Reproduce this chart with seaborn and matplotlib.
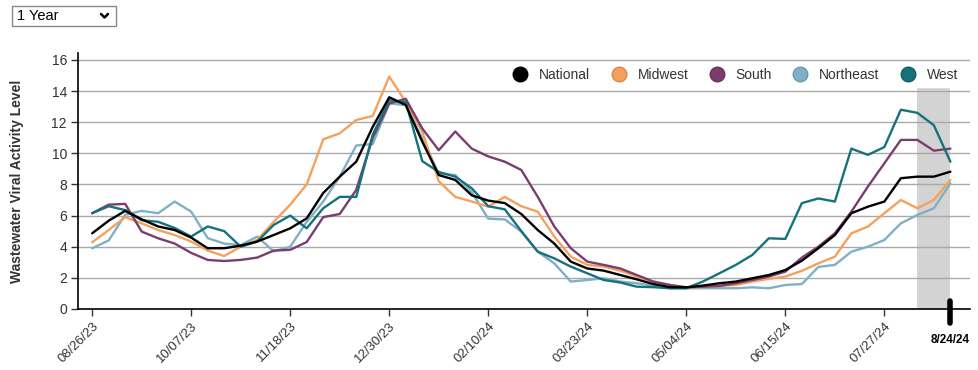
import numpy as np
import pandas as pd
import matplotlib
matplotlib.use("Agg")
import matplotlib.pyplot as plt
from matplotlib.lines import Line2D
from matplotlib.patches import Rectangle
import seaborn as sns

# ---------------- data ----------------
dates = pd.date_range("2023-08-26", periods=53, freq="7D")

national = [4.86, 5.67, 6.3, 5.76, 5.3, 5.07, 4.58, 3.9, 3.9, 4.07, 4.33, 4.75, 5.18,
            5.82, 7.45, 8.5, 9.46, 11.7, 13.6, 13.1, 10.75, 8.6, 8.29, 7.3, 6.96, 6.8,
            6.1, 5.07, 4.2, 3.04, 2.6, 2.46, 2.18, 1.9, 1.6, 1.4, 1.39, 1.5, 1.65, 1.76,
            1.97, 2.18, 2.5, 3.1, 3.9, 4.75, 6.15, 6.57, 6.9, 8.4, 8.5, 8.5, 8.82]
midwest = [4.28, 5.07, 5.9, 5.5, 5.07, 4.75, 4.33, 3.75, 3.4, 4.0, 4.43, 5.6, 6.7,
           8.0, 10.9, 11.28, 12.14, 12.4, 14.93, 13.3, 11.4, 8.2, 7.2, 6.9, 6.57, 7.2,
           6.6, 6.25, 4.65, 3.36, 2.83, 2.72, 2.46, 2.08, 1.76, 1.54, 1.39, 1.39, 1.48,
           1.54, 1.76, 1.93, 2.08, 2.45, 2.93, 3.36, 4.86, 5.29, 6.15, 7.0, 6.47, 7.0, 8.29]
south = [6.15, 6.7, 6.75, 4.97, 4.54, 4.2, 3.6, 3.15, 3.08, 3.15, 3.3, 3.75, 3.8,
         4.3, 5.9, 6.1, 7.65, 11.0, 13.2, 13.5, 11.6, 10.2, 11.4, 10.3, 9.8, 9.46,
         8.93, 7.2, 5.3, 3.9, 3.04, 2.83, 2.6, 2.18, 1.76, 1.54, 1.39, 1.43, 1.48, 1.65,
         1.86, 2.08, 2.4, 3.3, 4.0, 4.86, 6.25, 7.86, 9.36, 10.86, 10.86, 10.17, 10.3]
northeast = [3.9, 4.4, 6.05, 6.3, 6.15, 6.9, 6.25, 4.55, 4.2, 4.1, 4.65, 3.7, 4.0,
             5.6, 6.9, 8.5, 10.5, 10.6, 13.2, 13.1, 10.96, 8.7, 8.6, 7.5, 5.8, 5.75,
             4.97, 3.68, 2.93, 1.76, 1.86, 1.97, 1.76, 1.65, 1.5, 1.33, 1.33, 1.33, 1.33,
             1.33, 1.39, 1.33, 1.54, 1.6, 2.7, 2.83, 3.68, 4.0, 4.43, 5.5, 6.04, 6.47, 8.07]
west = [6.15, 6.6, 6.35, 5.7, 5.6, 5.2, 4.65, 5.3, 5.0, 4.0, 4.33, 5.4, 6.0,
        5.18, 6.47, 7.2, 7.2, 11.2, 13.4, 13.3, 9.5, 8.8, 8.5, 7.75, 6.6, 6.4,
        5.0, 3.68, 3.25, 2.72, 2.29, 1.86, 1.7, 1.43, 1.4, 1.33, 1.33, 1.76, 2.29, 2.83,
        3.47, 4.54, 4.5, 6.8, 7.1, 6.9, 10.3, 9.9, 10.4, 12.8, 12.6, 11.8, 9.46]

series_names = ["National", "Midwest", "South", "Northeast", "West"]
series_values = [national, midwest, south, northeast, west]
colors = {"National": "#000000", "Midwest": "#f4a15d", "South": "#7b3d6f",
          "Northeast": "#7fb0c6", "West": "#16727a"}
edge_colors = {"National": "#000000", "Midwest": "#d9874a", "South": "#6a3060",
               "Northeast": "#6a98ad", "West": "#0f5e64"}

tick_labels = ["08/26/23", "10/07/23", "11/18/23", "12/30/23", "02/10/24",
               "03/23/24", "05/04/24", "06/15/24", "07/27/24"]
last_label = "8/24/24"
y_ticks = [0, 2, 4, 6, 8, 10, 12, 14, 16]

df = pd.DataFrame({"date": np.tile(dates, len(series_names)),
                   "region": np.repeat(series_names, len(dates)),
                   "value": np.concatenate(series_values)})

# ---------------- figure ----------------
sns.set_theme(style="white")
plt.rcParams["font.family"] = ["Liberation Sans", "DejaVu Sans"]

fig = plt.figure(figsize=(9.79, 3.70), dpi=100)
ax = fig.add_axes([0.0797, 0.165, 0.9113, 0.692])

# shaded recent-weeks band
ax.axvspan(dates[50], dates[52], ymin=0, ymax=14.3 / 16.45, color="#d3d3d3", lw=0, zorder=0.5)

for y in y_ticks:
    ax.axhline(y, color="#a9a9a9", lw=1.0, zorder=0.6)

draw_order = ["Northeast", "Midwest", "South", "West", "National"]
for i, name in enumerate(draw_order):
    sub = df[df["region"] == name]
    sns.lineplot(data=sub, x="date", y="value", ax=ax, color=colors[name],
                 lw=1.7, zorder=2 + i, legend=False)

ax.set_ylim(0, 16.45)
ax.set_xlim(dates[0] - pd.Timedelta(days=6), dates[52] + pd.Timedelta(days=8.4))
ax.set_yticks(y_ticks)
ax.set_yticklabels([str(v) for v in y_ticks], fontsize=10, color="#333333")

tick_dates = [dates[i] for i in range(0, 53, 6)]
ax.set_xticks(tick_dates)
ax.set_xticklabels(tick_labels, rotation=45, ha="right", rotation_mode="anchor",
                   fontsize=9.5, color="#333333")
ax.tick_params(axis="both", which="major", direction="out", length=5, width=1,
               color="#333333", left=True, bottom=True, pad=3)

for s in ["top", "right"]:
    ax.spines[s].set_visible(False)
for s in ["left", "bottom"]:
    ax.spines[s].set_color("#000000")
    ax.spines[s].set_linewidth(1.2)

ax.set_xlabel("")
ax.set_ylabel("Wastewater Viral Activity Level", fontsize=10, fontweight="bold",
              color="#333333", labelpad=20)

# current-date marker and label
trans = matplotlib.transforms.blended_transform_factory(ax.transData, ax.transAxes)
ax.plot([dates[52], dates[52]], [0.03, -0.055], transform=trans, color="#000000",
        lw=4, solid_capstyle="round", clip_on=False, zorder=10)
ax.text(dates[52], -0.12, last_label, transform=trans, ha="center", va="center",
        fontsize=8.5, fontweight="bold", color="#000000")

# legend
handles = [Line2D([0], [0], marker="o", linestyle="", markersize=10.5,
                  markerfacecolor=colors[n], markeredgecolor=edge_colors[n],
                  markeredgewidth=1.0, label=n) for n in series_names]
leg = ax.legend(handles=handles, loc="center right", bbox_to_anchor=(0.992, 0.914),
                ncol=5, frameon=True, fontsize=10, handletextpad=0.35,
                columnspacing=1.05, borderpad=0.35, borderaxespad=0.0)
leg.get_frame().set_facecolor("white")
leg.get_frame().set_edgecolor("white")
leg.get_frame().set_alpha(1.0)
leg.set_zorder(20)
for t in leg.get_texts():
    t.set_color("#333333")

# "1 Year" dropdown
fig.patches.append(Rectangle((12 / 979, 1 - 26 / 370), 104 / 979, 20 / 370,
                             transform=fig.transFigure, facecolor="white",
                             edgecolor="#888888", lw=1))
fig.text(17 / 979, 1 - 16 / 370, "1 Year", fontsize=10.5, va="center", ha="left",
         color="#000000")
fig.lines.append(Line2D([101 / 979, 104.5 / 979, 108 / 979],
                        [1 - 14 / 370, 1 - 17.5 / 370, 1 - 14 / 370],
                        transform=fig.transFigure, color="#000000", lw=1.8))

fig.savefig("out.png", dpi=100)
